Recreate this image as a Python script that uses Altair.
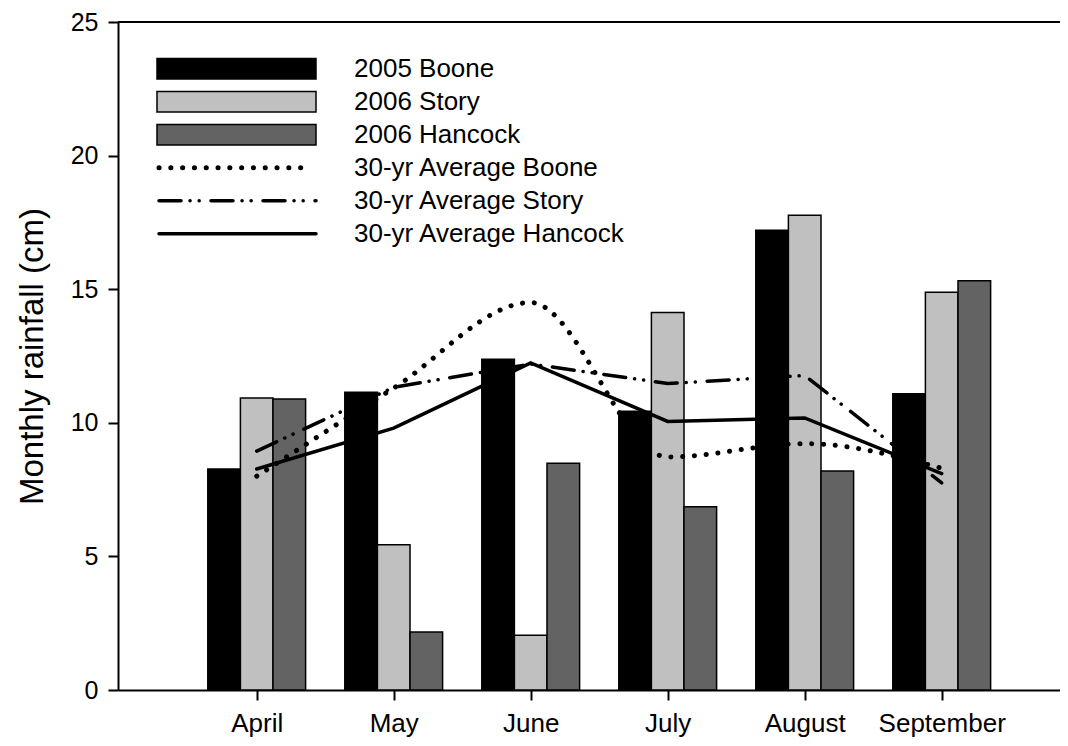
import json
import altair as alt
import pandas as pd

# ---------------- data ----------------
months = ["April", "May", "June", "July", "August", "September"]
bar_series = ["2005 Boone", "2006 Story", "2006 Hancock"]
boone_2005 = [8.27, 11.14, 12.38, 10.43, 17.21, 11.09]
story_2006 = [10.93, 5.44, 2.05, 14.13, 17.77, 14.89]
hancock_2006 = [10.89, 2.17, 8.49, 6.86, 8.20, 15.32]

line_series = ["30-yr Average Boone", "30-yr Average Story", "30-yr Average Hancock"]
avg_boone = [8.0, 11.3, 14.5, 8.72, 9.22, 8.3]
avg_story = [8.94, 11.33, 12.2, 11.47, 11.77, 7.75]
avg_hancock = [8.27, 9.8, 12.24, 10.05, 10.18, 8.1]

y_ticks = [0, 5, 10, 15, 20, 25]

# ---------------- styling ----------------
FONT = "Liberation Sans"
W, H = 942, 668
TOP = 14
BW = 0.238          # bar width in month units
bar_colors = ["#000000", "#c0c0c0", "#636363"]

bars_rows = []
for slot, (name, vals) in enumerate(zip(bar_series, [boone_2005, story_2006, hancock_2006])):
    for m, v in enumerate(vals):
        bars_rows.append({"m": m, "series": name, "slot": slot, "value": v})
bars_df = pd.DataFrame(bars_rows)

xscale = alt.Scale(domain=[-1.0124, 5.8635], nice=False, zero=False)
yscale = alt.Scale(domain=[0, 25], nice=False, zero=True)

x_axis = alt.Axis(
    values=list(range(len(months))),
    labelExpr=f"{json.dumps(months)}[datum.value]",
    title=None, grid=False, tickSize=10, tickWidth=2, domainWidth=2,
    domainColor="black", tickColor="black", labelColor="black",
    labelFont=FONT, labelFontSize=26, labelPadding=10,
)
y_axis = alt.Axis(
    values=y_ticks, title="Monthly rainfall (cm)", grid=False, tickSize=10,
    tickWidth=2, domainWidth=2, domainColor="black", tickColor="black",
    labelColor="black", labelFont=FONT, labelFontSize=25, labelPadding=10,
    titleFont=FONT, titleFontSize=33, titleFontWeight="normal",
    titleColor="black", titleX=-86, titleY=H / 2, titleAlign="center",
    titleBaseline="middle", titleAngle=270,
)

bars = alt.Chart(bars_df).transform_calculate(
    x1=f"datum.m + (datum.slot - 1.5) * {BW}",
    x2=f"datum.m + (datum.slot - 0.5) * {BW}",
).mark_bar(stroke="black", strokeWidth=1.5).encode(
    x=alt.X("x1:Q", scale=xscale, axis=x_axis),
    x2="x2:Q",
    y=alt.Y("value:Q", scale=yscale, axis=y_axis),
    y2=alt.datum(0),
    fill=alt.Fill("series:N", scale=alt.Scale(domain=bar_series, range=bar_colors), legend=None),
)

line_styles = [
    dict(strokeDash=[0.1, 11.7], strokeWidth=5, interpolate="monotone"),
    dict(strokeDash=[22, 9, 0.1, 9, 0.1, 11.8], strokeWidth=3.5, interpolate="linear"),
    dict(strokeWidth=3.5, interpolate="linear"),
]
line_layers = []
for name, vals, st in zip(line_series, [avg_boone, avg_story, avg_hancock], line_styles):
    df = pd.DataFrame({"m": list(range(len(months))), "v": vals, "series": name})
    line_layers.append(
        alt.Chart(df).mark_line(color="black", strokeCap="round", **st).encode(
            x=alt.X("m:Q", scale=xscale), y=alt.Y("v:Q", scale=yscale)
        )
    )

one = pd.DataFrame({"a": [0]})
top_rule = alt.Chart(one).mark_rule(color="black", strokeWidth=2).encode(
    x=alt.value(0), x2=alt.value(W), y=alt.value(0)
)

# ---------------- legend (drawn manually) ----------------
legend_layers = []
ROW0, ROWSTEP = 46.7, 33.0
SX0, SX1, TX = 39, 198, 236
legend_names = bar_series + line_series
for i, name in enumerate(legend_names):
    ry = ROW0 + i * ROWSTEP
    ldf = pd.DataFrame({"name": [name]})
    if i < 3:
        legend_layers.append(
            alt.Chart(ldf).mark_rect(fill=bar_colors[i], stroke="black", strokeWidth=1.5).encode(
                x=alt.value(SX0), x2=alt.value(SX1), y=alt.value(ry - 10.3), y2=alt.value(ry + 10.3)
            )
        )
    else:
        st = line_styles[i - 3]
        legend_layers.append(
            alt.Chart(ldf).mark_rule(color="black", strokeCap="round",
                                     strokeWidth=st["strokeWidth"],
                                     **({"strokeDash": st["strokeDash"]} if "strokeDash" in st else {})).encode(
                x=alt.value(SX0 + 2), x2=alt.value(SX1 - (12 if i == 3 else 0)), y=alt.value(ry)
            )
        )
    legend_layers.append(
        alt.Chart(ldf).mark_text(align="left", baseline="middle", font=FONT, fontSize=26, color="black").encode(
            x=alt.value(TX), y=alt.value(ry), text="name:N"
        )
    )

chart = alt.layer(bars, *line_layers, top_rule, *legend_layers).properties(
    width=W, height=H,
    padding={"left": 110, "top": TOP, "right": 0, "bottom": 55},
    autosize=alt.AutoSizeParams(type="none"),
    background="white",
).configure_view(stroke="transparent")

chart.save("out.html", embed_options={"renderer": "svg", "actions": False})
